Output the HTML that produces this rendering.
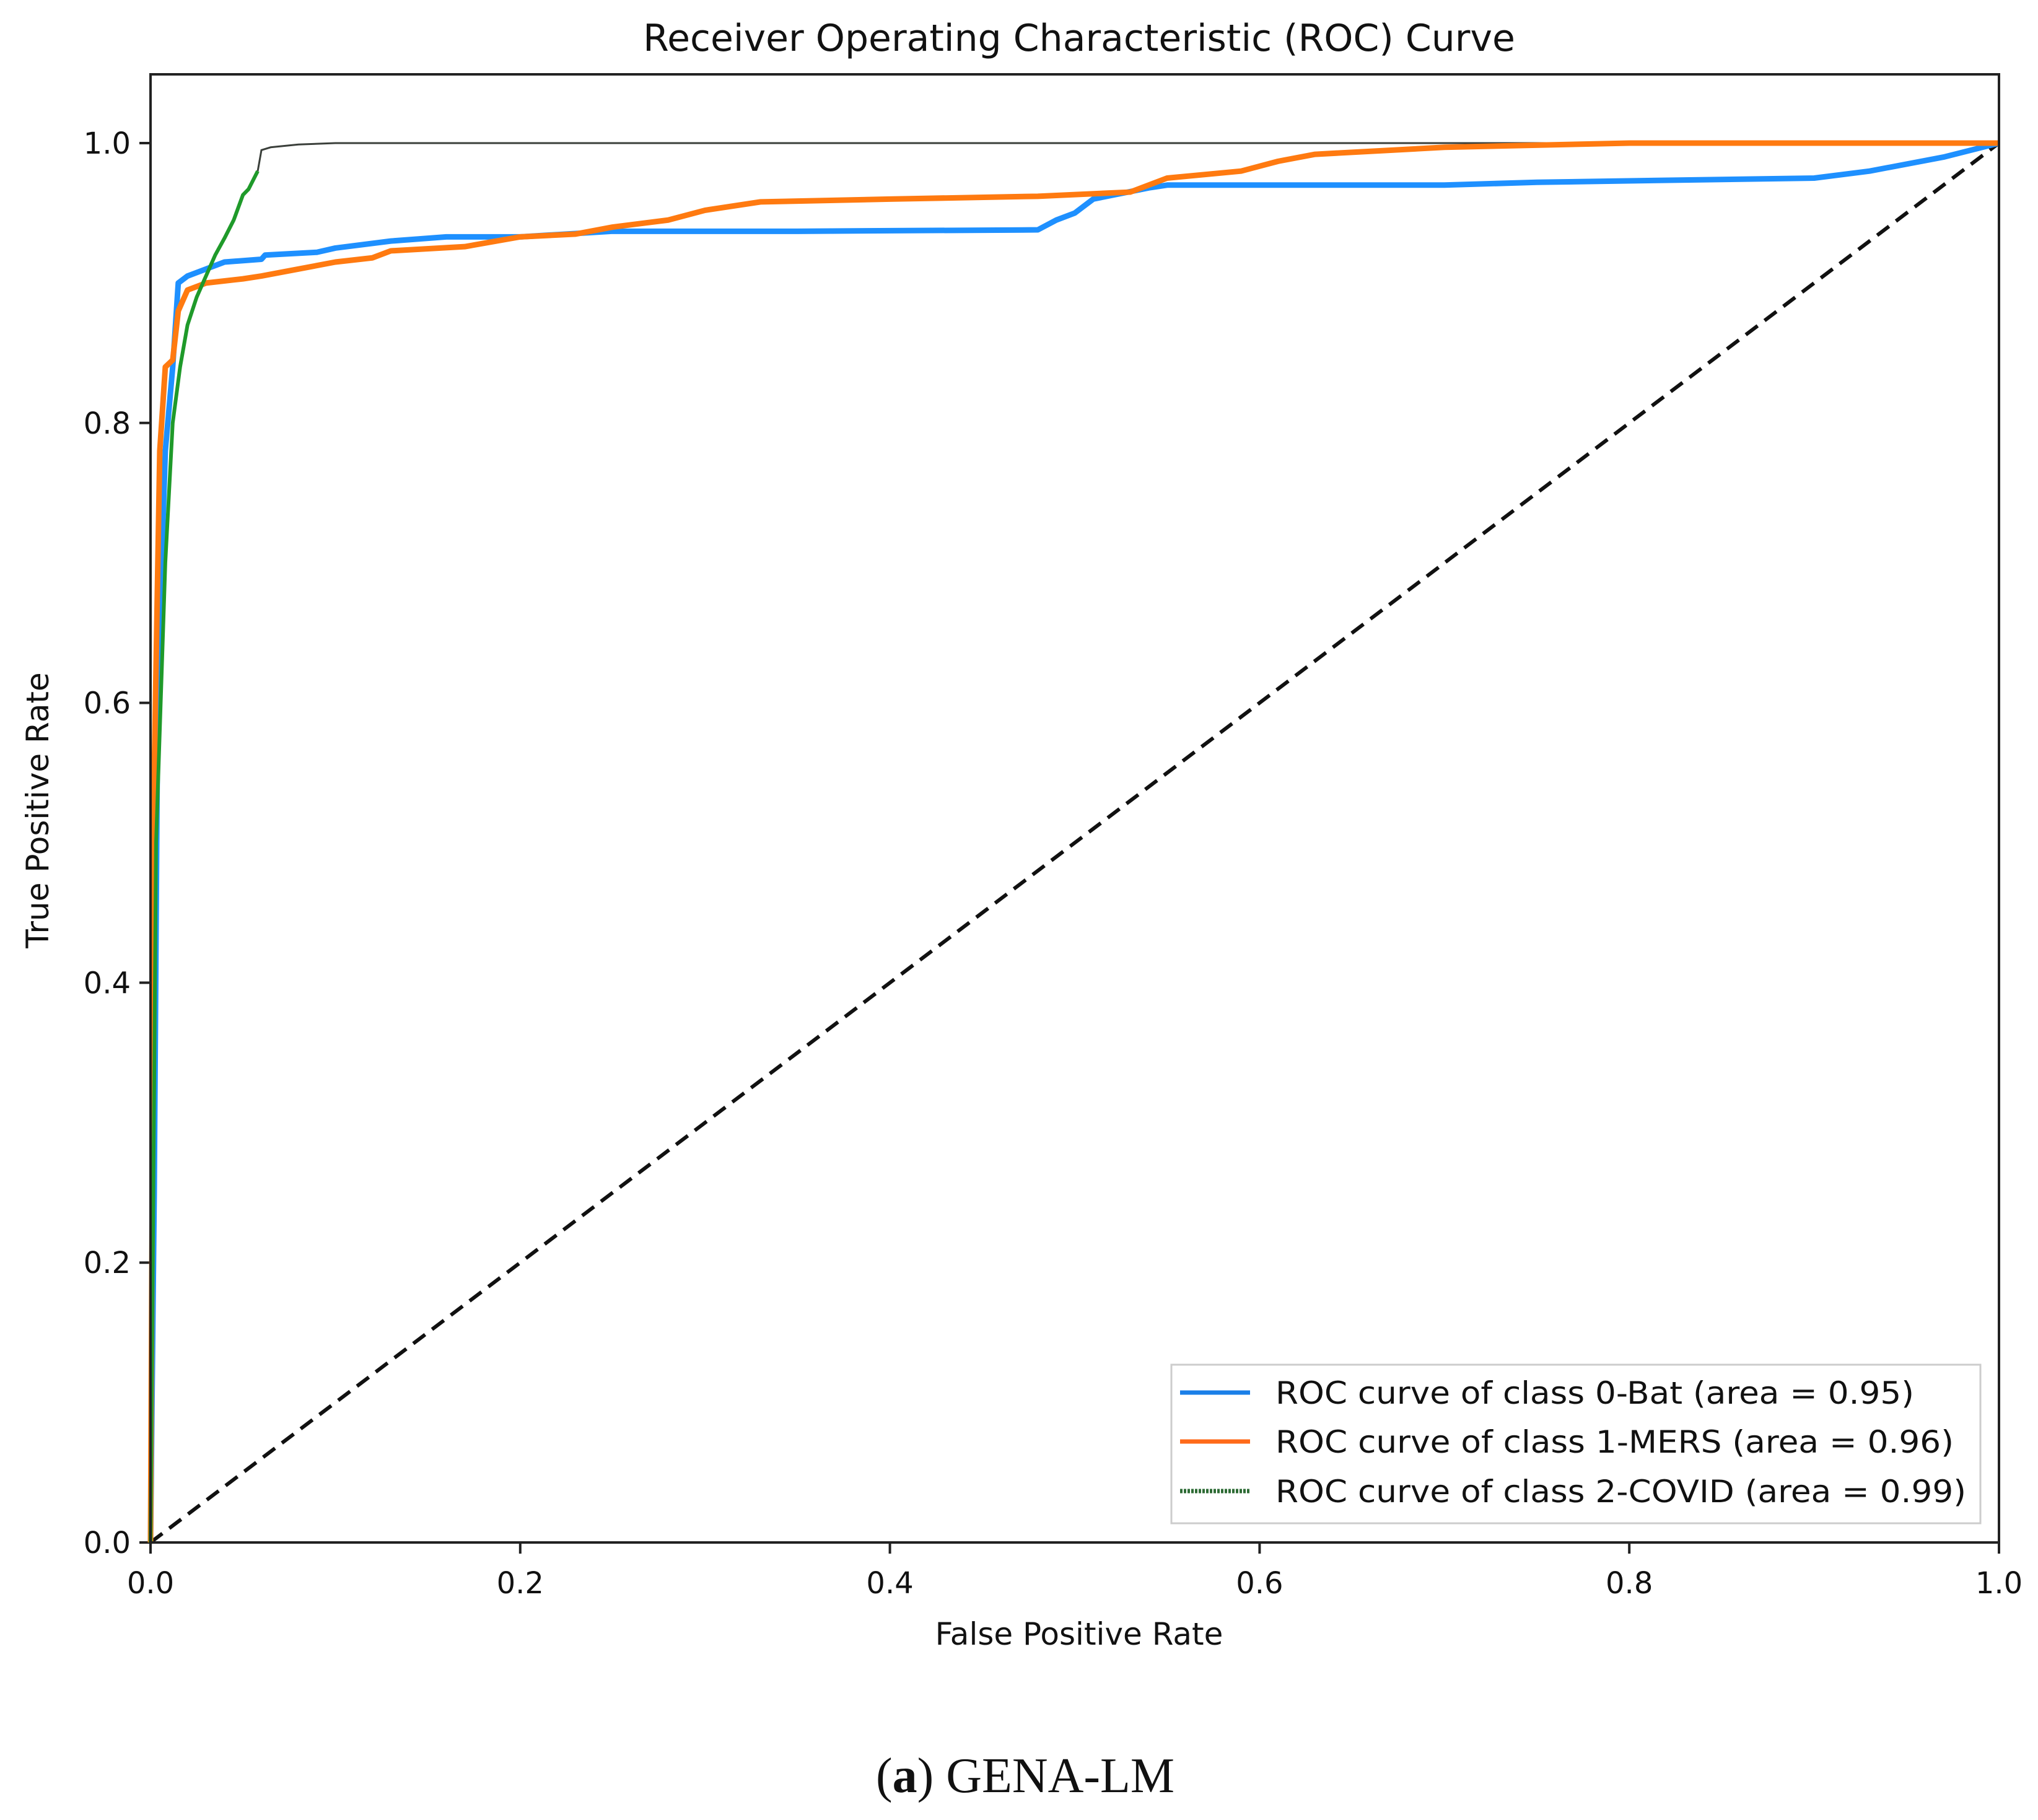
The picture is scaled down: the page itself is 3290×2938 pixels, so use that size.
<!DOCTYPE html>
<html><head><meta charset="utf-8"><style>
html,body{margin:0;padding:0;background:#fff}
svg{display:block}
text{font-family:"DejaVu Sans","Liberation Sans",sans-serif;fill:#111}
</style></head><body>
<svg id="chart" width="3290" height="2938" viewBox="0 0 3290 2938">
<text x="1742" y="82" font-size="60" text-anchor="middle">Receiver Operating Characteristic (ROC) Curve</text>
<g id="axes"></g>
<g id="series"></g>
<rect x="243" y="120" width="2984" height="2370" fill="none" stroke="#222" stroke-width="4"/>
<text x="1742" y="2655" font-size="50" text-anchor="middle">False Positive Rate</text>
<text x="0" y="0" font-size="50" text-anchor="middle" transform="translate(78,1308) rotate(-90)">True Positive Rate</text>
<g>
<rect x="1891" y="2203" width="1306" height="256" fill="#fff" stroke="#ccc" stroke-width="3"/>
<line x1="1905" y1="2248" x2="2018" y2="2248" stroke="#1a7fe8" stroke-width="7"/>
<text x="2059" y="2266" font-size="50" textLength="1031" lengthAdjust="spacingAndGlyphs">ROC curve of class 0-Bat (area = 0.95)</text>
<line x1="1905" y1="2327" x2="2018" y2="2327" stroke="#ff6a1a" stroke-width="7"/>
<text x="2059" y="2345" font-size="50" textLength="1095" lengthAdjust="spacingAndGlyphs">ROC curve of class 1-MERS (area = 0.96)</text>
<line x1="1905" y1="2407" x2="2018" y2="2407" stroke="#2e6b35" stroke-width="7" stroke-dasharray="4 2"/>
<text x="2059" y="2425" font-size="50" textLength="1115" lengthAdjust="spacingAndGlyphs">ROC curve of class 2-COVID (area = 0.99)</text>
</g>
<text x="1655" y="2893" font-size="80" text-anchor="middle" style="font-family:'Liberation Serif',serif">(<tspan font-weight="bold">a</tspan>) GENA-LM</text>
</svg>
<script>
const xTicks=[0,0.2,0.4,0.6,0.8,1.0];
const yTicks=[0,0.2,0.4,0.6,0.8,1.0];
const tickLabels=["0.0","0.2","0.4","0.6","0.8","1.0"];
const batFpr=[0,0.002,0.004,0.008,0.012,0.015,0.02,0.03,0.04,0.06,0.062,0.09,0.1,0.13,0.16,0.2,0.25,0.35,0.48,0.49,0.5,0.51,0.54,0.55,0.7,0.75,0.9,0.93,0.97,1];
const batTpr=[0,0.25,0.62,0.78,0.84,0.9,0.905,0.91,0.915,0.917,0.92,0.922,0.925,0.93,0.933,0.933,0.937,0.937,0.938,0.945,0.95,0.96,0.968,0.97,0.97,0.972,0.975,0.98,0.99,1];
const mersFpr=[0,0.002,0.005,0.008,0.012,0.015,0.02,0.03,0.05,0.06,0.08,0.1,0.12,0.13,0.17,0.2,0.23,0.25,0.28,0.3,0.33,0.4,0.48,0.53,0.55,0.59,0.61,0.63,0.7,0.8,1];
const mersTpr=[0,0.55,0.78,0.84,0.845,0.88,0.895,0.9,0.903,0.905,0.91,0.915,0.918,0.923,0.926,0.933,0.935,0.94,0.945,0.952,0.958,0.96,0.962,0.965,0.975,0.98,0.987,0.992,0.997,1,1];
const covidFpr=[0,0.003,0.008,0.012,0.016,0.02,0.025,0.03,0.035,0.04,0.045,0.05,0.053,0.058,0.06,0.065,0.08,0.1,1];
const covidTpr=[0,0.5,0.7,0.8,0.84,0.87,0.89,0.905,0.92,0.932,0.945,0.963,0.967,0.98,0.995,0.997,0.999,1,1];
const X0=243,X1=3227,Y0=2490,Y1=231;
const sx=v=>X0+v*(X1-X0), sy=v=>Y0-v*(Y0-Y1);
const NS="http://www.w3.org/2000/svg";
const axes=document.getElementById('axes'), ser=document.getElementById('series');
function mk(tag,attrs,parent){const e=document.createElementNS(NS,tag);for(const k in attrs)e.setAttribute(k,attrs[k]);parent.appendChild(e);return e;}
xTicks.forEach((t,i)=>{
  const l=mk('line',{x1:sx(t),x2:sx(t),y1:Y0,y2:Y0+18,stroke:'#222','stroke-width':4},axes);
  
  
  const tx=mk('text',{x:sx(t),y:Y0+82,'font-size':48,'text-anchor':'middle'},axes);tx.textContent=tickLabels[i];
  
  
});
yTicks.forEach((t,i)=>{
  const l=mk('line',{x1:X0-18,x2:X0,y1:sy(t),y2:sy(t),stroke:'#222','stroke-width':4},axes);
  
  
  const tx=mk('text',{x:X0-32,y:sy(t)+17,'font-size':48,'text-anchor':'end'},axes);tx.textContent=tickLabels[i];
  
  
});
function pts(xs,ys,a,b){let s=[];for(let i=a;i<b;i++)s.push(sx(xs[i])+','+sy(ys[i]));return s.join(' ');}
const diag=mk('line',{x1:sx(0),y1:sy(0),x2:sx(1),y2:sy(1),stroke:'#111','stroke-width':6,'stroke-dasharray':'24 14'},ser);


const cb=mk('polyline',{points:pts(covidFpr,covidTpr,13,covidFpr.length),fill:'none',stroke:'#3a3f3a','stroke-width':3},ser);


const b=mk('polyline',{points:pts(batFpr,batTpr,0,batFpr.length),fill:'none',stroke:'#1e90ff','stroke-width':9,'stroke-linejoin':'round'},ser);


const m=mk('polyline',{points:pts(mersFpr,mersTpr,0,mersFpr.length),fill:'none',stroke:'#ff7a10','stroke-width':9,'stroke-linejoin':'round'},ser);


const c=mk('polyline',{points:pts(covidFpr,covidTpr,0,14),fill:'none',stroke:'#1f9a2a','stroke-width':6,'stroke-linejoin':'round'},ser);


</script>
</body></html>
